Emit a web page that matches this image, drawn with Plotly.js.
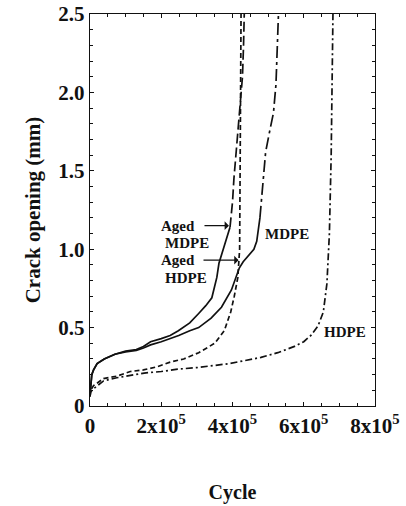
<!DOCTYPE html>
<html>
<head>
<meta charset="utf-8">
<script src="https://cdn.plot.ly/plotly-3.0.1.min.js"></script>
<style>
  html, body { margin: 0; padding: 0; background: #fff; }
  #chart { width: 406px; height: 506px; }
</style>
</head>
<body>
<div id="chart"></div>
<script>
// ---- Data ----
const agedMdpeCycle = [0, 2e3, 5e3, 1e4, 2e4, 4e4, 7e4, 1.0e5, 1.3e5, 1.5e5, 1.7e5, 2.0e5, 2.25e5, 2.48e5, 2.8e5, 3.05e5, 3.25e5, 3.42e5, 3.56e5, 3.62e5, 3.76e5, 3.86e5, 3.93e5, 4.0e5, 4.04e5, 4.12e5, 4.22e5, 4.28e5, 4.31e5, 4.33e5];
const agedMdpeOpening = [0.07, 0.15, 0.20, 0.23, 0.27, 0.30, 0.33, 0.35, 0.36, 0.38, 0.41, 0.43, 0.45, 0.48, 0.53, 0.59, 0.64, 0.69, 0.82, 0.91, 1.01, 1.08, 1.14, 1.30, 1.45, 1.65, 1.90, 2.10, 2.30, 2.50];

const mdpeCycle = [0, 2e3, 5e3, 1e4, 2e4, 4e4, 7e4, 1.0e5, 1.3e5, 1.5e5, 1.7e5, 2.0e5, 2.25e5, 2.49e5, 2.8e5, 3.05e5, 3.4e5, 3.69e5, 3.97e5, 4.09e5, 4.19e5, 4.3e5, 4.45e5, 4.6e5, 4.68e5, 4.73e5, 4.77e5, 4.85e5, 4.93e5, 5.05e5, 5.15e5, 5.22e5, 5.26e5, 5.29e5];
const mdpeOpening = [0.07, 0.15, 0.20, 0.23, 0.27, 0.30, 0.33, 0.345, 0.355, 0.37, 0.39, 0.41, 0.43, 0.45, 0.48, 0.50, 0.56, 0.63, 0.74, 0.82, 0.88, 0.92, 0.96, 1.00, 1.05, 1.12, 1.20, 1.42, 1.62, 1.76, 1.87, 2.05, 2.30, 2.50];

const agedHdpeCycle = [0, 2e3, 1e4, 3.8e4, 7.5e4, 1.13e5, 1.5e5, 1.88e5, 2.25e5, 2.63e5, 3.05e5, 3.5e5, 3.77e5, 3.95e5, 4.05e5, 4.15e5, 4.2e5, 4.22e5, 4.23e5, 4.24e5];
const agedHdpeOpening = [0.06, 0.10, 0.13, 0.175, 0.19, 0.22, 0.23, 0.25, 0.28, 0.30, 0.34, 0.40, 0.48, 0.60, 0.70, 0.82, 1.00, 1.50, 2.00, 2.50];

const hdpeCycle = [0, 2e3, 1e4, 3.8e4, 7.5e4, 1.0e5, 1.52e5, 2.0e5, 2.46e5, 3.0e5, 3.4e5, 3.9e5, 4.35e5, 4.8e5, 5.27e5, 5.74e5, 6.0e5, 6.2e5, 6.4e5, 6.55e5, 6.65e5, 6.72e5, 6.77e5, 6.8e5, 6.82e5];
const hdpeOpening = [0.06, 0.09, 0.11, 0.16, 0.18, 0.19, 0.21, 0.22, 0.235, 0.245, 0.255, 0.27, 0.29, 0.31, 0.34, 0.38, 0.41, 0.45, 0.51, 0.60, 0.78, 1.10, 1.60, 2.00, 2.50];

const xTickVals = [0, 2e5, 4e5, 6e5, 8e5];
const xTickText = ['0', '2x10<sup>5</sup>', '4x10<sup>5</sup>', '6x10<sup>5</sup>', '8x10<sup>5</sup>'];
const yTickVals = [0, 0.5, 1.0, 1.5, 2.0, 2.5];
const yTickText = ['0', '0.5', '1.0', '1.5', '2.0', '2.5'];

// index where the dense (solid-looking) part of a curve ends
const agedMdpeSplit = 22;
const mdpeSplit = 26;

// ---- Build traces ----
const lineW = 1.7;
function seg(x, y, from, to, dash) {
  return { x: x.slice(from, to), y: y.slice(from, to), type: 'scatter', mode: 'lines',
           line: { color: '#111', width: lineW, dash: dash }, hoverinfo: 'skip', showlegend: false };
}
const traces = [
  seg(agedMdpeCycle, agedMdpeOpening, 0, agedMdpeSplit + 1, 'solid'),
  seg(agedMdpeCycle, agedMdpeOpening, agedMdpeSplit, agedMdpeCycle.length, '10px,4px'),
  seg(mdpeCycle, mdpeOpening, 0, mdpeSplit + 1, 'solid'),
  seg(mdpeCycle, mdpeOpening, mdpeSplit, mdpeCycle.length, '12px,4px,3px,4px'),
  seg(agedHdpeCycle, agedHdpeOpening, 0, agedHdpeCycle.length, '5px,3px'),
  seg(hdpeCycle, hdpeOpening, 0, hdpeCycle.length, '7px,3px,2px,3px')
];

const fontFam = '"Liberation Serif", "Times New Roman", serif';
const annFont = { family: fontFam, size: 15, color: '#111', weight: 'bold' };

const annotations = [
  // "Aged" labels carry the arrows (text sits at the arrow tail)
  { x: 3.9e5, y: 1.15, ax: 2.47e5, ay: 1.15, xref: 'x', yref: 'y', axref: 'x', ayref: 'y',
    text: 'Aged', font: annFont, showarrow: true, arrowhead: 1, arrowsize: 1.2, arrowwidth: 1.2,
    arrowcolor: '#111', startstandoff: 8 },
  { x: 2.04e5, y: 1.04, xref: 'x', yref: 'y', text: 'MDPE', showarrow: false, xanchor: 'left', font: annFont },
  { x: 4.17e5, y: 0.93, ax: 2.47e5, ay: 0.93, xref: 'x', yref: 'y', axref: 'x', ayref: 'y',
    text: 'Aged', font: annFont, showarrow: true, arrowhead: 1, arrowsize: 1.2, arrowwidth: 1.2,
    arrowcolor: '#111', startstandoff: 7 },
  { x: 2.04e5, y: 0.815, xref: 'x', yref: 'y', text: 'HDPE', showarrow: false, xanchor: 'left', font: annFont },
  { x: 4.87e5, y: 1.10, xref: 'x', yref: 'y', text: 'MDPE', showarrow: false, xanchor: 'left', font: annFont },
  { x: 6.52e5, y: 0.47, xref: 'x', yref: 'y', text: 'HDPE', showarrow: false, xanchor: 'left', font: annFont }
];

const layout = {
  width: 406, height: 506,
  margin: { l: 90, r: 31, t: 14, b: 100 },
  paper_bgcolor: '#fff', plot_bgcolor: '#fff',
  font: { family: fontFam, size: 18, color: '#111', weight: 'bold' },
  showlegend: false,
  xaxis: {
    range: [0, 8e5], showgrid: false, zeroline: false,
    showline: true, linecolor: '#111', linewidth: 1.3, mirror: 'allticks',
    ticks: 'inside', ticklen: 4, tickcolor: '#111', tickwidth: 1,
    tickvals: xTickVals, ticktext: xTickText,
    tickfont: { family: fontFam, size: 21, color: '#111', weight: 'bold' },
    minor: { dtick: 5e4, ticks: 'inside', ticklen: 3, tickcolor: '#111', tickwidth: 1, showgrid: false },
    title: { text: 'Cycle', font: { family: fontFam, size: 20, color: '#111', weight: 'bold' }, standoff: 48 }
  },
  yaxis: {
    range: [0, 2.5], showgrid: false, zeroline: false,
    showline: true, linecolor: '#111', linewidth: 1.3, mirror: 'allticks',
    ticks: 'inside', ticklen: 4, tickcolor: '#111', tickwidth: 1,
    tickvals: yTickVals, ticktext: yTickText,
    tickfont: { family: fontFam, size: 21, color: '#111', weight: 'bold' },
    minor: { dtick: 0.1, ticks: 'inside', ticklen: 3, tickcolor: '#111', tickwidth: 1, showgrid: false },
    title: { text: 'Crack opening (mm)', font: { family: fontFam, size: 21, color: '#111', weight: 'bold' }, standoff: 12 }
  },
  annotations: annotations
};

Plotly.newPlot('chart', traces, layout, { staticPlot: true, displayModeBar: false });
</script>
</body>
</html>
